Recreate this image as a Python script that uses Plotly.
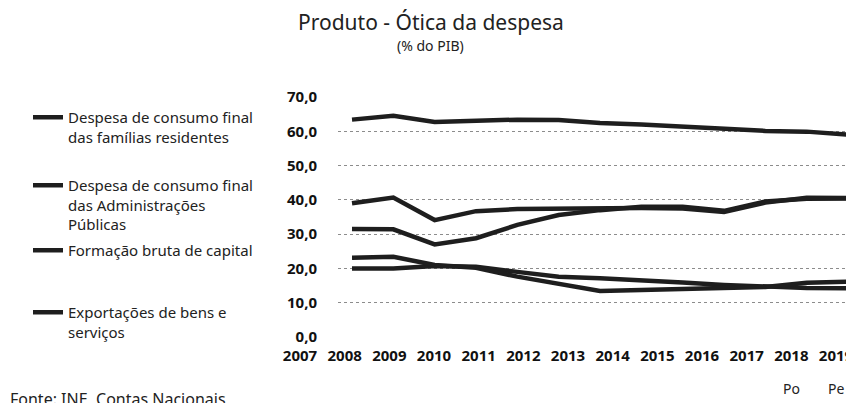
import plotly.graph_objects as go

years = [2007, 2008, 2009, 2010, 2011, 2012, 2013, 2014, 2015, 2016, 2017, 2018, 2019]
year_labels = ["2007", "2008", "2009", "2010", "2011", "2012", "2013", "2014", "2015", "2016", "2017", "2018", "2019"]
year_notes = ["", "", "", "", "", "", "", "", "", "", "", "Po", "Pe"]

familias = [63.4, 64.5, 62.7, 63.2, 63.4, 63.3, 62.4, 62.0, 61.3, 60.6, 60.1, 59.9, 59.0]
administracoes = [20.0, 20.0, 20.7, 20.5, 19.0, 17.6, 17.1, 16.6, 15.9, 15.2, 14.7, 14.3, 14.2]
fbc = [23.1, 23.4, 21.0, 20.2, 17.6, 15.4, 13.4, 13.7, 13.9, 14.2, 14.6, 15.8, 16.1]
exportacoes = [31.5, 31.4, 27.0, 28.8, 32.7, 35.6, 37.0, 38.0, 38.0, 36.8, 39.5, 40.3, 40.4]
importacoes = [39.0, 40.7, 34.1, 36.7, 37.3, 37.5, 37.7, 37.6, 37.5, 36.5, 39.2, 40.6, 40.5]

names = [
    "Despesa de consumo final<br>das famílias residentes",
    "Despesa de consumo final<br>das Administrações<br>Públicas",
    "Formação bruta de capital",
    "Exportações de bens e<br>serviços",
]

OFF = 8  # page body margin
W, H = 854 - OFF, 403 - OFF

def px(sx):
    return (sx - OFF) / W

def py(sy):
    return (H - (sy - OFF)) / H

line_color = "#1e1e1e"
font_main = "Noto Sans"

fig = go.Figure()
series = [familias, administracoes, fbc, exportacoes]
legend_ids = ["legend", "legend2", "legend3", "legend4"]
for vals, nm, lg in zip(series, names, legend_ids):
    fig.add_trace(go.Scatter(x=years, y=vals, name=nm, mode="lines",
                             line=dict(color=line_color, width=4.5),
                             legend=lg, hoverinfo="skip"))
fig.add_trace(go.Scatter(x=years, y=importacoes, name="Importações de bens e serviços",
                         mode="lines", line=dict(color=line_color, width=4.5),
                         showlegend=False, hoverinfo="skip"))
# carrier for the year-label axis
fig.add_trace(go.Scatter(x=years, y=[None] * len(years), xaxis="x2", yaxis="y2",
                         mode="lines", showlegend=False, hoverinfo="skip"))

legend_tops = [101, 169, 234, 296]
legends = {}
for lg, top in zip(legend_ids, legend_tops):
    legends[lg] = dict(x=px(28), y=py(top), xanchor="left", yanchor="top",
                       bgcolor="rgba(0,0,0,0)", valign="top",
                       font=dict(family=font_main, size=15, color="#222"),
                       itemclick=False, itemdoubleclick=False)

# data axis: 2007 at screen x 352, 2019 at 848; plot from 338 to right edge
step = (848 - 352) / 12
x_lo = 2007 - (352 - 338) / step
x_hi = 2019 + (854 - 848) / step
# label axis: 2007 centred at 300, 2019 at 836
lstep = (836 - 300) / 12
l_lo = 2007 - (300 - OFF) / lstep
l_hi = 2019 + (854 - 836) / lstep

fig.update_layout(
    width=W, height=H,
    margin=dict(l=0, r=0, t=0, b=0, autoexpand=False),
    paper_bgcolor="white", plot_bgcolor="rgba(0,0,0,0)",
    separators=",.",
    showlegend=True,
    xaxis=dict(domain=[px(338), 1.0], range=[x_lo, x_hi], anchor="y",
               showgrid=False, showticklabels=False, zeroline=False, showline=False, ticks=""),
    yaxis=dict(domain=[py(337), py(97)], range=[0, 70], dtick=10, tickformat=".1f", anchor="x",
               showgrid=True, gridcolor="#8c8c8c", griddash="dot", gridwidth=1,
               zeroline=False, showline=False, ticks="", ticklabelstandoff=20, automargin=False,
               tickfont=dict(family=font_main, size=15, color="#111", weight="bold")),
    xaxis2=dict(domain=[0, 1], range=[l_lo, l_hi], anchor="y2",
                tickvals=years, ticktext=year_labels, showgrid=False, zeroline=False,
                showline=False, ticks="", ticklabelstandoff=8, automargin=False,
                ticklabeloverflow="allow",
                tickfont=dict(family=font_main, size=15, color="#111", weight="bold")),
    yaxis2=dict(domain=[py(337), py(97)], range=[0, 70], anchor="x2", visible=False),
    **legends,
)

fig.add_annotation(text="Produto - Ótica da despesa", x=px(431), y=py(22), xref="paper", yref="paper",
                   xanchor="center", yanchor="middle", showarrow=False,
                   font=dict(family=font_main, size=21, color="#222"))
fig.add_annotation(text="(% do PIB)", x=px(430), y=py(46), xref="paper", yref="paper",
                   xanchor="center", yanchor="middle", showarrow=False,
                   font=dict(family=font_main, size=14, color="#222"))
for yr, note in zip(years, year_notes):
    if note:
        fig.add_annotation(text=note, x=yr, xref="x2", y=py(388), yref="paper",
                           xanchor="center", yanchor="middle", showarrow=False,
                           font=dict(family=font_main, size=14, color="#222"))
fig.add_annotation(text="Fonte: INE, Contas Nacionais", x=0, y=py(386), xref="paper", yref="paper",
                   xanchor="left", yanchor="top", showarrow=False,
                   font=dict(family=font_main, size=16, color="#222"))

fig.write_html("out.html")
